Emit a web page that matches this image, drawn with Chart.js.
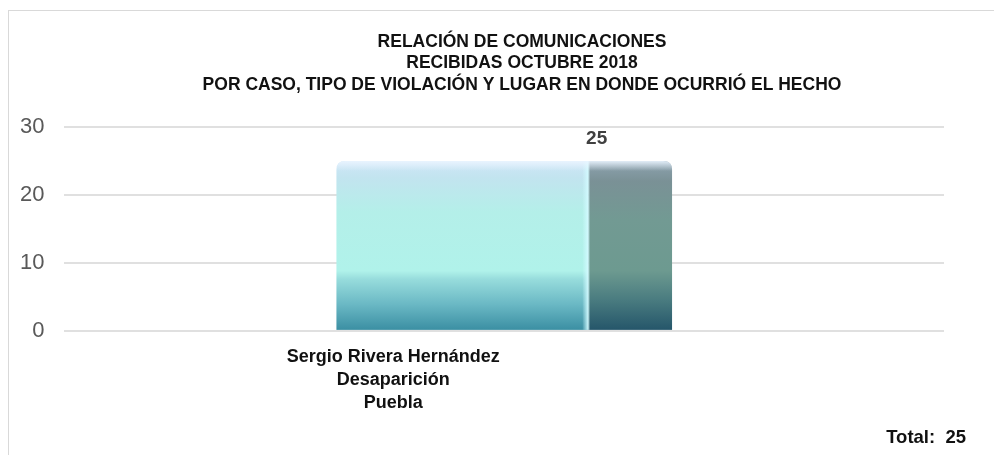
<!DOCTYPE html>
<html>
<head>
<meta charset="utf-8">
<script src="https://cdn.jsdelivr.net/npm/chart.js@4.4.0/dist/chart.umd.min.js"></script>
<style>
  html, body { margin: 0; padding: 0; background: #fff; }
  #wrap { position: relative; width: 994px; height: 455px; }
  #frame { position: absolute; left: 8px; top: 10px; width: 990px; height: 450px;
           border-left: 1px solid #d9d9d9; border-top: 1px solid #d9d9d9; }
  #total { position: absolute; right: 28px; top: 426px; font: bold 18.5px "Liberation Sans", sans-serif; color: #111; white-space: pre; }
  canvas { position: absolute; left: 0; top: 0; }
</style>
</head>
<body>
<div id="wrap">
  <div id="frame"></div>
  <canvas id="myChart" width="994" height="455"></canvas>
  <div id="total">Total:  25</div>
</div>
<script>
var categories = [["Sergio Rivera Hernández", "Desaparición", "Puebla"]];
var values = [25];
var titleLines = [
  "RELACIÓN DE COMUNICACIONES",
  "RECIBIDAS OCTUBRE 2018",
  "POR CASO, TIPO DE VIOLACIÓN Y LUGAR EN DONDE OCURRIÓ EL HECHO"
];

// title sits a little right of centre, as in the original
var titleText = {
  id: "titleText",
  afterDraw: function (chart) {
    var c = chart.ctx;
    c.save();
    c.font = "bold 17.5px 'Liberation Sans', sans-serif";
    c.fillStyle = "#111";
    c.textAlign = "center";
    c.textBaseline = "middle";
    titleLines.forEach(function (line, k) {
      c.fillText(line, 522, 42 + k * 21.5);
    });
    c.restore();
  }
};

// paints the glassy 3D-looking bar inside the bar element's box
var barPainter = {
  id: "barPainter",
  afterDatasetsDraw: function (chart) {
    var c = chart.ctx;
    chart.getDatasetMeta(0).data.forEach(function (bar, i) {
      var left = bar.x - bar.width / 2, right = bar.x + bar.width / 2;
      var top = bar.y, bottom = bar.base, h = bottom - top;
      var split = left + bar.width * 0.75;
      var r = 9;
      c.save();
      c.beginPath();
      c.moveTo(left, bottom);
      c.lineTo(left, top + r);
      c.quadraticCurveTo(left, top, left + r, top);
      c.lineTo(right - r, top);
      c.quadraticCurveTo(right, top, right, top + r);
      c.lineTo(right, bottom);
      c.closePath();
      c.clip();

      var g = c.createLinearGradient(0, top, 0, bottom);
      g.addColorStop(0, "#cfe6f7");
      g.addColorStop(0.1, "#c2e4ef");
      g.addColorStop(0.3, "#b4efe9");
      g.addColorStop(0.65, "#b0f2ea");
      g.addColorStop(0.7, "#97dcdc");
      g.addColorStop(0.85, "#6ab8c4");
      g.addColorStop(1, "#3b8fa3");
      c.fillStyle = g;
      c.fillRect(left, top, split - left, h);

      var s = c.createLinearGradient(0, top, 0, bottom);
      s.addColorStop(0, "#8ea3b0");
      s.addColorStop(0.12, "#7a9196");
      s.addColorStop(0.35, "#729a93");
      s.addColorStop(0.65, "#6d9a90");
      s.addColorStop(0.82, "#4a7c80");
      s.addColorStop(1, "#25566a");
      c.fillStyle = s;
      c.fillRect(split, top, right - split, h);

      // highlight edge between faces
      var e = c.createLinearGradient(split - 6, 0, split + 2, 0);
      e.addColorStop(0, "rgba(210,250,255,0)");
      e.addColorStop(0.7, "rgba(210,250,255,0.9)");
      e.addColorStop(1, "rgba(210,250,255,0)");
      c.fillStyle = e;
      c.fillRect(split - 6, top, 8, h);

      // top rim light
      var t = c.createLinearGradient(0, top, 0, top + 10);
      t.addColorStop(0, "rgba(235,245,255,0.9)");
      t.addColorStop(1, "rgba(235,245,255,0)");
      c.fillStyle = t;
      c.fillRect(left, top, right - left, 10);
      c.restore();

      c.save();
      c.font = "bold 19px 'Liberation Sans', sans-serif";
      c.fillStyle = "#404040";
      c.textAlign = "center";
      c.textBaseline = "middle";
      c.fillText(String(values[i]), split + (right - split) * 0.1, top - 22);
      c.restore();
    });
  }
};

var ctx = document.getElementById("myChart").getContext("2d");
var myChart = new Chart(ctx, {
  type: "bar",
  data: {
    labels: categories,
    datasets: [
      {
        data: values,
        backgroundColor: "rgba(0,0,0,0)",
        borderWidth: 0,
        categoryPercentage: 0.382,
        barPercentage: 1
      }
    ]
  },
  options: {
    responsive: false,
    animation: false,
    layout: { padding: { left: 0, right: 50, top: 127, bottom: 33 } },
    plugins: {
      legend: { display: false },
      tooltip: { enabled: false },
      title: { display: false }
    },
    scales: {
      x: {
        grid: { display: false },
        border: { display: false },
        ticks: {
          color: "#111",
          font: { family: "'Liberation Sans', sans-serif", size: 18, weight: "bold", lineHeight: 1.28 },
          padding: 7,
          labelOffset: -111
        }
      },
      y: {
        min: 0,
        max: 30,
        ticks: {
          stepSize: 10,
          color: "#595959",
          font: { family: "'Liberation Sans', sans-serif", size: 22 },
          padding: 20
        },
        grid: { color: "#e0e0e0", lineWidth: 2, drawTicks: false },
        border: { display: false }
      }
    }
  },
  plugins: [barPainter, titleText]
});
</script>
</body>
</html>
